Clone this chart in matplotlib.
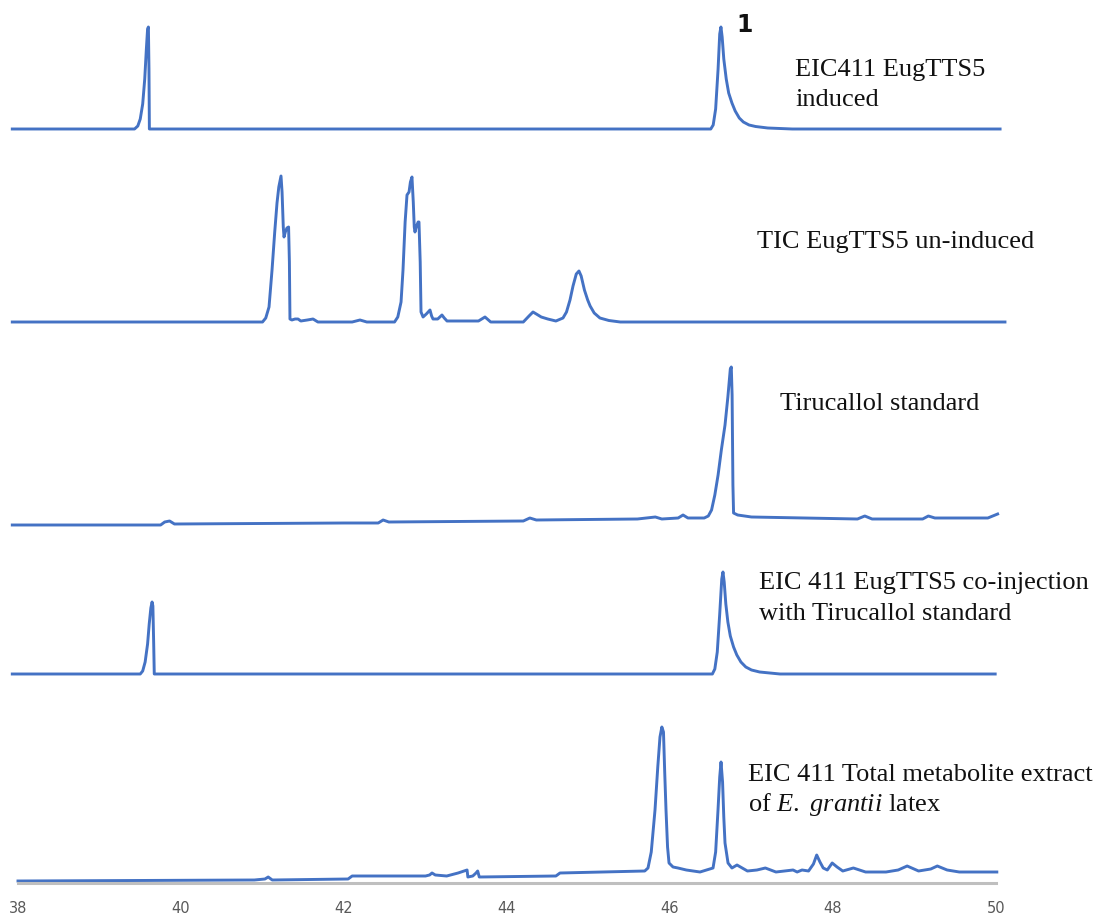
import matplotlib.pyplot as plt

plt.rcParams['mathtext.fontset'] = 'custom'
plt.rcParams['mathtext.it'] = 'Liberation Serif:italic'
plt.rcParams['mathtext.rm'] = 'Liberation Serif'

# retention time (min) / height above each trace baseline (arbitrary units)
t_eic_induced = [37.93, 39.43, 39.47, 39.50, 39.53, 39.555, 39.575, 39.59, 39.60, 39.607,
                 39.612, 39.64,
                 46.50, 46.53, 46.56, 46.59, 46.61, 46.625, 46.64, 46.66, 46.69, 46.72,
                 46.76, 46.80, 46.85, 46.90, 46.97, 47.05, 47.20, 47.50, 50.05]
h_eic_induced = [0, 0, 3, 10, 25, 50, 80, 100, 102, 60,
                 0, 0,
                 0, 4, 20, 60, 95, 102, 92, 70, 50, 36,
                 26, 18, 11, 7, 4, 2.5, 1, 0, 0]

t_tic_uninduced = [37.93, 41.00, 41.04, 41.08, 41.117, 41.15, 41.178, 41.20, 41.227, 41.24,
                   41.255, 41.264, 41.28, 41.30, 41.32, 41.33, 41.337, 41.36, 41.40, 41.436,
                   41.47, 41.55, 41.62, 41.68, 42.10, 42.196, 42.28, 42.62, 42.66, 42.70,
                   42.724, 42.75, 42.773, 42.798, 42.815, 42.834, 42.85, 42.862, 42.871, 42.89,
                   42.91, 42.92, 42.935, 42.945, 42.97, 43.01, 43.055, 43.075, 43.092, 43.15,
                   43.202, 43.23, 43.264, 43.65, 43.73, 43.80, 44.20, 44.27, 44.319, 44.36,
                   44.42, 44.50, 44.60, 44.687, 44.73, 44.773, 44.81, 44.85, 44.883, 44.91,
                   44.95, 44.99, 45.02, 45.07, 45.14, 45.25, 45.39, 50.11]
h_tic_uninduced = [0, 0, 4, 15, 52, 90, 119, 135, 146, 130,
                   95, 85, 90, 94, 95, 60, 3, 2, 3, 3,
                   1, 2, 3, 0, 0, 2, 0, 0, 5, 20,
                   52, 100, 127, 130, 140, 145, 120, 95, 90, 96,
                   100, 100, 60, 10, 5, 8, 12, 6, 3, 3,
                   7, 4, 1, 1, 5, 0, 0, 6, 10, 8,
                   5, 3, 1, 4, 10, 22, 36, 48, 51, 46,
                   32, 22, 16, 9, 4, 1.5, 0, 0]

t_tirucallol = [37.93, 39.75, 39.80, 39.86, 39.92, 42.00, 42.42, 42.48, 42.55, 44.20,
                44.28, 44.36, 45.60, 45.82, 45.90, 46.10, 46.16, 46.22, 46.42, 46.47,
                46.51, 46.55, 46.59, 46.63, 46.675, 46.71, 46.74, 46.752, 46.762, 46.772,
                46.78, 46.83, 47.00, 48.30, 48.39, 48.48, 49.10, 49.17, 49.25, 49.90,
                50.02]
h_tirucallol = [0, 0, 3, 4, 1, 2, 2, 5, 3, 4,
                7, 5, 6, 8, 6, 7, 10, 7, 7, 9,
                15, 30, 50, 75, 100, 128, 156, 158, 130, 40,
                12, 10, 8, 6, 9, 6, 6, 9, 7, 7,
                11]

t_coinjection = [37.93, 39.50, 39.53, 39.56, 39.59, 39.61, 39.63, 39.645, 39.655, 39.665,
                 39.672, 39.70,
                 46.52, 46.55, 46.58, 46.61, 46.635, 46.65, 46.665, 46.685, 46.71, 46.74,
                 46.78, 46.82, 46.87, 46.93, 47.00, 47.10, 47.35, 49.99]
h_coinjection = [0, 0, 3, 12, 30, 50, 66, 72, 68, 30,
                 0, 0,
                 0, 5, 22, 60, 95, 102, 92, 70, 52, 38,
                 27, 19, 12, 7, 4, 2, 0, 0]

t_latex = [38.00, 40.90, 41.03, 41.07, 41.12, 42.05, 42.10, 43.00, 43.05, 43.08,
           43.12, 43.26, 43.40, 43.51, 43.52, 43.58, 43.62, 43.64, 43.66, 44.60,
           44.65, 45.69, 45.73, 45.77, 45.816, 45.85, 45.877, 45.90, 45.92, 45.935,
           45.951, 45.97, 45.988, 46.037, 46.098, 46.20, 46.368, 46.528, 46.56, 46.589,
           46.61, 46.626, 46.645, 46.66, 46.675, 46.712, 46.76, 46.822, 46.95, 47.067,
           47.17, 47.30, 47.51, 47.56, 47.62, 47.70, 47.76, 47.80, 47.84, 47.88,
           47.93, 47.99, 48.05, 48.12, 48.25, 48.40, 48.65, 48.80, 48.91, 49.05,
           49.20, 49.28, 49.40, 49.55, 50.01]
h_latex = [1, 2, 3, 5, 2, 3, 6, 6, 7, 9,
           7, 6, 9, 12, 5, 6, 9, 11, 5, 6,
           9, 11, 14, 30, 72, 115, 145, 155, 150, 110,
           72, 35, 19, 15, 14, 12, 10, 14, 30, 72,
           105, 120, 100, 65, 39, 19, 14, 17, 11, 12,
           14, 10, 12, 10, 12, 11, 18, 27, 20, 14,
           12, 19, 15, 11, 14, 10, 10, 12, 16, 11,
           13, 16, 12, 10, 10]

traces = [
    (t_eic_induced, h_eic_induced, 754),
    (t_tic_uninduced, h_tic_uninduced, 561),
    (t_tirucallol, h_tirucallol, 358),
    (t_coinjection, h_coinjection, 209),
    (t_latex, h_latex, 1),
]

W, H = 1095, 918
LINE = '#4472C4'

fig = plt.figure(figsize=(W / 100, H / 100), dpi=100)
ax = fig.add_axes([18 / W, 1 - 883 / H, (996 - 18) / W, 883 / H])

for t, h, base in traces:
    ax.plot(t, [v + base for v in h], color=LINE, lw=2.1, clip_on=False,
            solid_joinstyle='round')

ax.set_xlim(38, 50)
ax.set_ylim(0, 883)
ax.set_xticks(range(38, 51, 2))
ax.set_yticks([])
for s in ['top', 'right', 'left']:
    ax.spines[s].set_visible(False)
ax.spines['bottom'].set_color('#bfbfbf')
ax.spines['bottom'].set_linewidth(2.2)
ax.tick_params(axis='x', length=0, pad=13, labelsize=10.5, labelcolor='#595959')


def label(x, y, s, **kw):
    fig.text(x / W, 1 - y / H, s, va='center', ha='left',
             family='Liberation Serif', fontsize=19, color='#111111', **kw)


fig.text(736 / W, 1 - 25 / H, '1', va='center', ha='left', family='DejaVu Sans',
         fontsize=17, fontweight='bold', color='#111111')
label(795, 70, 'EIC411 EugTTS5')
label(795, 100, 'induced')
label(757, 242, 'TIC EugTTS5 un-induced')
label(780, 404, 'Tirucallol standard')
label(759, 583, 'EIC 411 EugTTS5 co-injection')
label(759, 614, 'with Tirucallol standard')
label(748, 775, 'EIC 411 Total metabolite extract')
label(748, 805, r'of $\mathit{E.}$ $\mathit{grantii}$ latex')

fig.savefig('out.png', dpi=100)
